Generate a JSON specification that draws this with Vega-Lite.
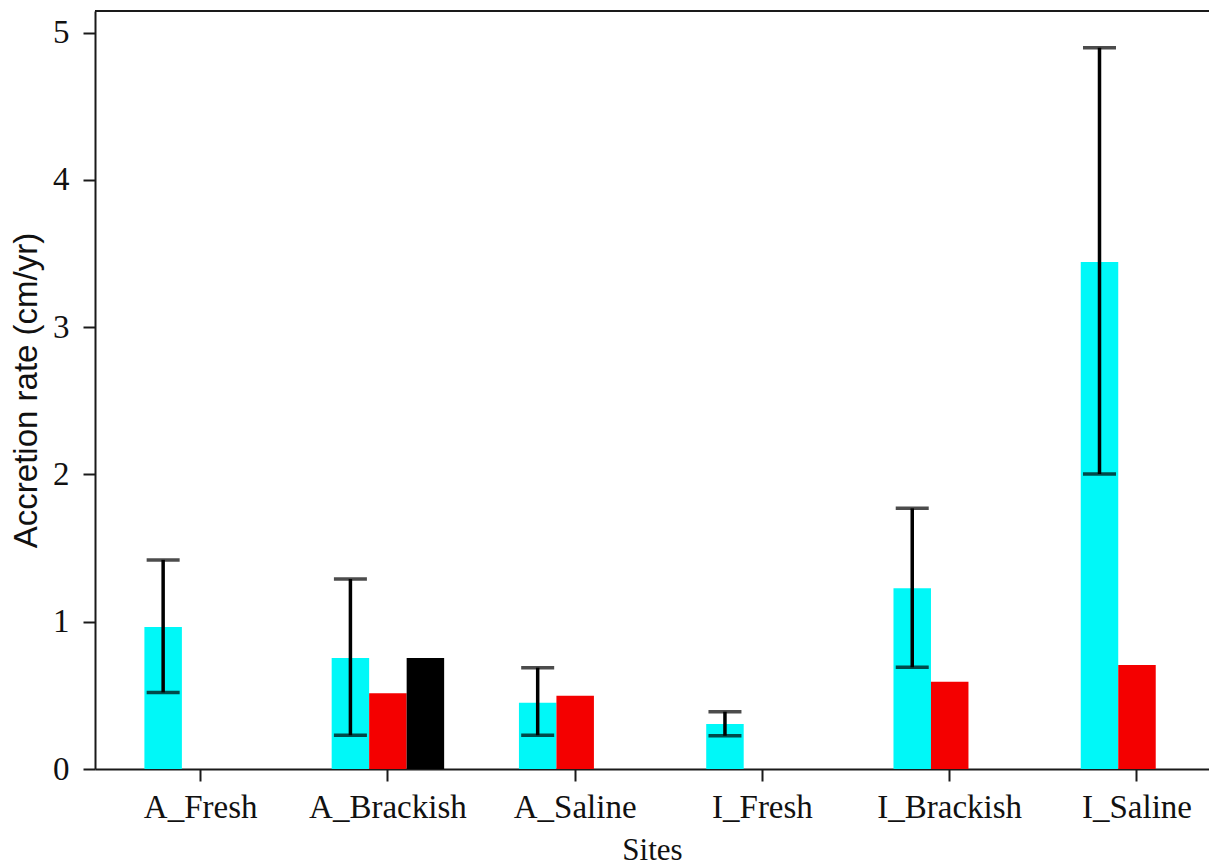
{
  "$schema": "https://vega.github.io/schema/vega-lite/v6.json",
  "autosize": {"type": "none"},
  "padding": {"left": 95, "top": 11, "right": 0, "bottom": 98},
  "width": 1114,
  "height": 758,
  "background": "white",
  "config": {
    "view": {"stroke": null},
    "axis": {
      "labelFont": "Liberation Serif",
      "labelFontSize": 33,
      "labelColor": "#111111",
      "domainColor": "#1a1a1a",
      "domainWidth": 2,
      "tickColor": "#1a1a1a",
      "tickWidth": 2,
      "tickSize": 12,
      "grid": false
    }
  },
  "datasets": {
    "bars": [
      {"site": "A_Fresh", "series": "Series 1", "rate": 0.964},
      {"site": "A_Brackish", "series": "Series 1", "rate": 0.754},
      {"site": "A_Brackish", "series": "Series 2", "rate": 0.514},
      {"site": "A_Brackish", "series": "Series 3", "rate": 0.754},
      {"site": "A_Saline", "series": "Series 1", "rate": 0.45},
      {"site": "A_Saline", "series": "Series 2", "rate": 0.498},
      {"site": "I_Fresh", "series": "Series 1", "rate": 0.306},
      {"site": "I_Brackish", "series": "Series 1", "rate": 1.227},
      {"site": "I_Brackish", "series": "Series 2", "rate": 0.593},
      {"site": "I_Saline", "series": "Series 1", "rate": 3.443},
      {"site": "I_Saline", "series": "Series 2", "rate": 0.706}
    ],
    "errs": [
      {"site": "A_Fresh", "series": "Series 1", "low": 0.52, "high": 1.42},
      {"site": "A_Brackish", "series": "Series 1", "low": 0.229, "high": 1.29},
      {"site": "A_Saline", "series": "Series 1", "low": 0.229, "high": 0.688},
      {"site": "I_Fresh", "series": "Series 1", "low": 0.226, "high": 0.389},
      {"site": "I_Brackish", "series": "Series 1", "low": 0.691, "high": 1.77},
      {"site": "I_Saline", "series": "Series 1", "low": 2.003, "high": 4.898}
    ],
    "frame": [{"top": 5.147}]
  },
  "encoding": {
    "x": {
      "field": "site",
      "type": "nominal",
      "sort": ["A_Fresh", "A_Brackish", "A_Saline", "I_Fresh", "I_Brackish", "I_Saline"],
      "scale": {"paddingInner": 0.3994, "paddingOuter": 0.174, "align": 0.758},
      "axis": {
        "labelAngle": 0,
        "labelPadding": 10,
        "title": "Sites",
        "titleFont": "Liberation Serif",
        "titleFontSize": 31,
        "titleFontWeight": "normal",
        "titleColor": "#111111",
        "titlePadding": 11
      }
    }
  },
  "layer": [
    {
      "data": {"name": "bars"},
      "mark": {"type": "bar"},
      "encoding": {
        "xOffset": {
          "field": "series",
          "type": "nominal",
          "scale": {"domain": ["Series 1", "Series 2", "Series 3"], "paddingInner": 0, "paddingOuter": 0}
        },
        "y": {
          "field": "rate",
          "type": "quantitative",
          "scale": {"domain": [0, 5.147], "nice": false, "zero": true},
          "axis": {
            "values": [0, 1, 2, 3, 4, 5],
            "format": "d",
            "labelPadding": 14,
            "title": "Accretion rate (cm/yr)",
            "titleFont": "Liberation Sans",
            "titleFontSize": 33,
            "titleFontWeight": "normal",
            "titleColor": "#111111",
            "titleAngle": 270,
            "titleAlign": "center",
            "titleBaseline": "middle",
            "titleX": -69,
            "titleY": 379
          }
        },
        "color": {
          "field": "series",
          "type": "nominal",
          "scale": {"domain": ["Series 1", "Series 2", "Series 3"], "range": ["#00F8F8", "#F40000", "#000000"]},
          "legend": null
        }
      }
    },
    {
      "data": {"name": "errs"},
      "mark": {"type": "rule", "color": "#000000", "strokeWidth": 3.5},
      "encoding": {
        "xOffset": {"field": "series", "type": "nominal"},
        "y": {"field": "low", "type": "quantitative"},
        "y2": {"field": "high"}
      }
    },
    {
      "data": {"name": "errs"},
      "mark": {"type": "tick", "color": "#000000", "thickness": 3.5, "size": 33, "orient": "horizontal"},
      "encoding": {
        "xOffset": {"field": "series", "type": "nominal"},
        "y": {"field": "low", "type": "quantitative"}
      }
    },
    {
      "data": {"name": "errs"},
      "mark": {"type": "tick", "color": "#000000", "thickness": 3.5, "size": 33, "orient": "horizontal"},
      "encoding": {
        "xOffset": {"field": "series", "type": "nominal"},
        "y": {"field": "high", "type": "quantitative"}
      }
    },
    {
      "data": {"name": "frame"},
      "mark": {"type": "rule", "color": "#1a1a1a", "strokeWidth": 2},
      "encoding": {
        "x": {"value": 0},
        "x2": {"value": 1114},
        "y": {"field": "top", "type": "quantitative"}
      }
    }
  ]
}
